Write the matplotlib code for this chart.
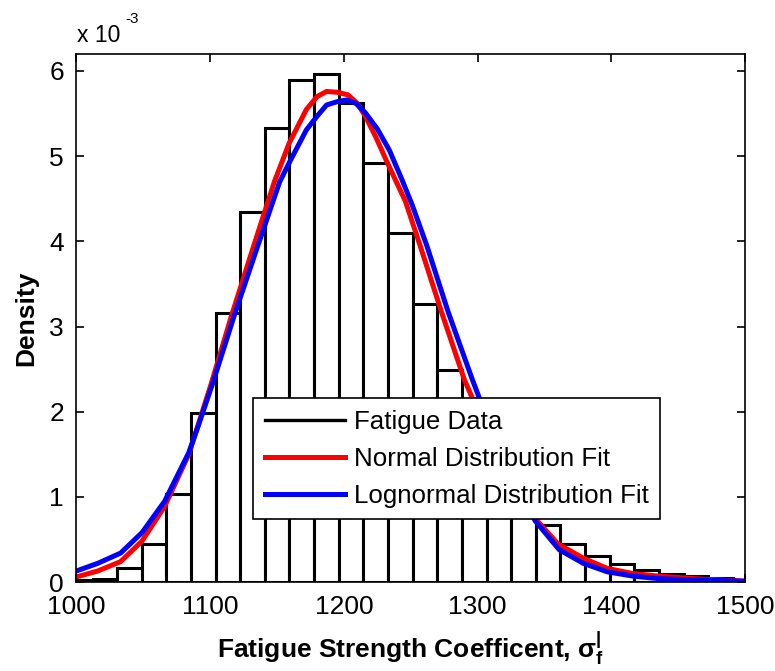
import matplotlib
matplotlib.use('Agg')
import matplotlib.pyplot as plt
from matplotlib.lines import Line2D

# histogram of the fatigue data (density, in units of 1e-3)
bin_edges = [993.6, 1012.0, 1030.4, 1048.8, 1067.3, 1085.7, 1104.1, 1122.5,
             1140.9, 1159.3, 1177.8, 1196.2, 1214.6, 1233.0, 1251.4, 1269.8,
             1288.2, 1306.7, 1325.1, 1343.5, 1361.9, 1380.3, 1398.7, 1417.1,
             1435.6, 1454.0, 1472.4, 1490.8, 1509.2]
density = [0.02, 0.04, 0.16, 0.45, 1.03, 1.98, 3.16, 4.35, 5.33, 5.90, 5.97,
           5.62, 4.92, 4.10, 3.27, 2.49, 1.70, 1.15, 0.90, 0.67, 0.45, 0.31,
           0.21, 0.14, 0.10, 0.07, 0.05, 0.02]

# fitted curves
normal_x = [1000, 1016, 1033, 1049, 1066, 1084, 1101, 1116, 1132, 1148, 1159,
            1172, 1180, 1187, 1195, 1203, 1210, 1216, 1224, 1232, 1246, 1257,
            1273, 1290, 1310, 1325, 1340, 1360, 1379, 1397, 1416, 1435, 1453,
            1472, 1500]
normal_y = [0.06, 0.13, 0.24, 0.48, 0.89, 1.50, 2.34, 3.13, 3.92, 4.70, 5.15,
            5.55, 5.70, 5.76, 5.75, 5.72, 5.62, 5.47, 5.22, 4.94, 4.47, 3.95,
            3.17, 2.38, 1.65, 1.20, 0.80, 0.45, 0.28, 0.16, 0.10, 0.07, 0.05,
            0.03, 0.01]
lognormal_x = [1000, 1016, 1033, 1049, 1066, 1084, 1091, 1102, 1118, 1135,
               1152, 1160, 1172, 1180, 1187, 1195, 1202, 1209, 1216, 1225,
               1234, 1243, 1251, 1262, 1278, 1296, 1310, 1325, 1343, 1361,
               1379, 1397, 1416, 1435, 1453, 1475, 1500]
lognormal_y = [0.13, 0.22, 0.34, 0.58, 0.95, 1.52, 1.83, 2.34, 3.13, 3.92,
               4.70, 4.95, 5.31, 5.47, 5.60, 5.64, 5.66, 5.62, 5.51, 5.32,
               5.07, 4.74, 4.43, 3.95, 3.17, 2.38, 1.80, 1.25, 0.72, 0.38,
               0.22, 0.12, 0.07, 0.04, 0.03, 0.02, 0.01]

legend_labels = ['Fatigue Data', 'Normal Distribution Fit',
                 'Lognormal Distribution Fit']

plt.rcParams['mathtext.fontset'] = 'custom'
plt.rcParams['mathtext.rm'] = 'Liberation Sans'
plt.rcParams['mathtext.bf'] = 'Liberation Sans:bold'
plt.rcParams['mathtext.it'] = 'Liberation Sans:italic'

tick_font = ['Liberation Sans Narrow', 'Liberation Sans', 'DejaVu Sans']
text_font = ['Liberation Sans', 'DejaVu Sans']

fig = plt.figure(figsize=(7.75, 6.71), dpi=100)
ax = fig.add_axes([0.0987, 0.1326, 0.8626, 0.787])

lefts = bin_edges[:-1]
widths = [b - a for a, b in zip(bin_edges[:-1], bin_edges[1:])]
ax.bar(lefts, density, width=widths, align='edge', facecolor='white',
       edgecolor='black', linewidth=2.2, zorder=2)
ax.plot(normal_x, normal_y, color='#ff0000', linewidth=3.6, zorder=3)
ax.plot(lognormal_x, lognormal_y, color='#0000ff', linewidth=3.6, zorder=4)

ax.set_xlim(1000, 1500)
ax.set_ylim(0, 6.2)
ax.set_xticks([1000, 1100, 1200, 1300, 1400, 1500])
ax.set_yticks([0, 1, 2, 3, 4, 5, 6])
ax.tick_params(direction='in', length=6, width=1.2, top=True, right=True,
               labelsize=19)
ax.tick_params(axis='x', pad=9)
ax.tick_params(axis='y', pad=9)
for lab in ax.get_xticklabels() + ax.get_yticklabels():
    lab.set_family(tick_font)
for sp in ax.spines.values():
    sp.set_linewidth(1.2)
    sp.set_zorder(5)

ax.set_xlabel(r'Fatigue Strength Coefficent, $\mathbf{\sigma}_{\mathbf{f}}^{\mathbf{|}}$',
              family=text_font, fontsize=19, fontweight='bold', labelpad=8)
ax.set_ylabel('Density', family=text_font, fontsize=19, fontweight='bold',
              labelpad=8)

fig.text(77 / 775, 1 - 42 / 671, 'x 10', family=tick_font, fontsize=16.5,
         va='baseline', ha='left')
fig.text(125 / 775, 1 - 23 / 671, '-3', family=tick_font, fontsize=11,
         va='baseline', ha='left')

handles = [Line2D([], [], color='black', linewidth=2.4),
           Line2D([], [], color='#ff0000', linewidth=3.6),
           Line2D([], [], color='#0000ff', linewidth=3.6)]
leg = ax.legend(handles, legend_labels, loc='upper left',
                bbox_to_anchor=(0.264, 0.348), borderaxespad=0,
                prop={'family': text_font, 'size': 18.6}, fancybox=False,
                framealpha=1, edgecolor='black', handlelength=3.1,
                handletextpad=0.35, labelspacing=0.5, borderpad=0.45)
leg.get_frame().set_linewidth(1.2)
leg.set_zorder(6)

fig.savefig('out.png', dpi=100, facecolor='white')
